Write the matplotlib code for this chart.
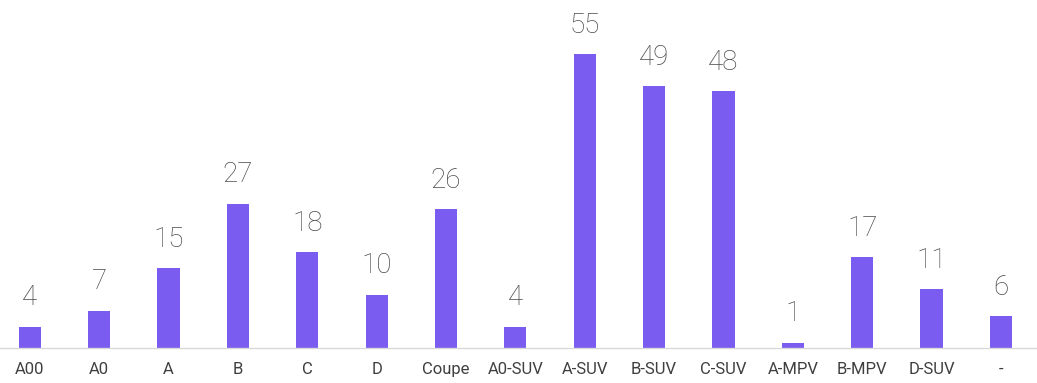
import matplotlib.pyplot as plt
import numpy as np

# vehicle segments and counts
segments = ['A00', 'A0', 'A', 'B', 'C', 'D', 'Coupe', 'A0-SUV', 'A-SUV',
            'B-SUV', 'C-SUV', 'A-MPV', 'B-MPV', 'D-SUV', '-']
counts = [4, 7, 15, 27, 18, 10, 26, 4, 55, 49, 48, 1, 17, 11, 6]

bar_color = '#7B5CF0'

fig = plt.figure(figsize=(10.37, 3.83), dpi=100)
ax = fig.add_axes([0, 35 / 383, 1, 348 / 383])

x = np.arange(len(segments))
bars = ax.bar(x, counts, width=0.32, color=bar_color)

for xi, v in zip(x, counts):
    ax.annotate(str(v), (xi, v), xytext=(0, 11), textcoords='offset points',
                ha='center', va='bottom', fontsize=20, color='#4a4a4a',
                family='Roboto', fontweight='light')

ax.set_xlim(-0.43, 14.52)
ax.set_ylim(0, 65.1)
ax.set_xticks(x)
ax.set_xticklabels(segments, fontsize=12, color='#3f3f3f', family='Roboto')
ax.tick_params(axis='x', length=0, pad=10)
ax.set_yticks([])

for side in ['top', 'right', 'left']:
    ax.spines[side].set_visible(False)
ax.spines['bottom'].set_color('#d9d9d9')
ax.spines['bottom'].set_linewidth(1)

fig.savefig('out.png', dpi=100)
